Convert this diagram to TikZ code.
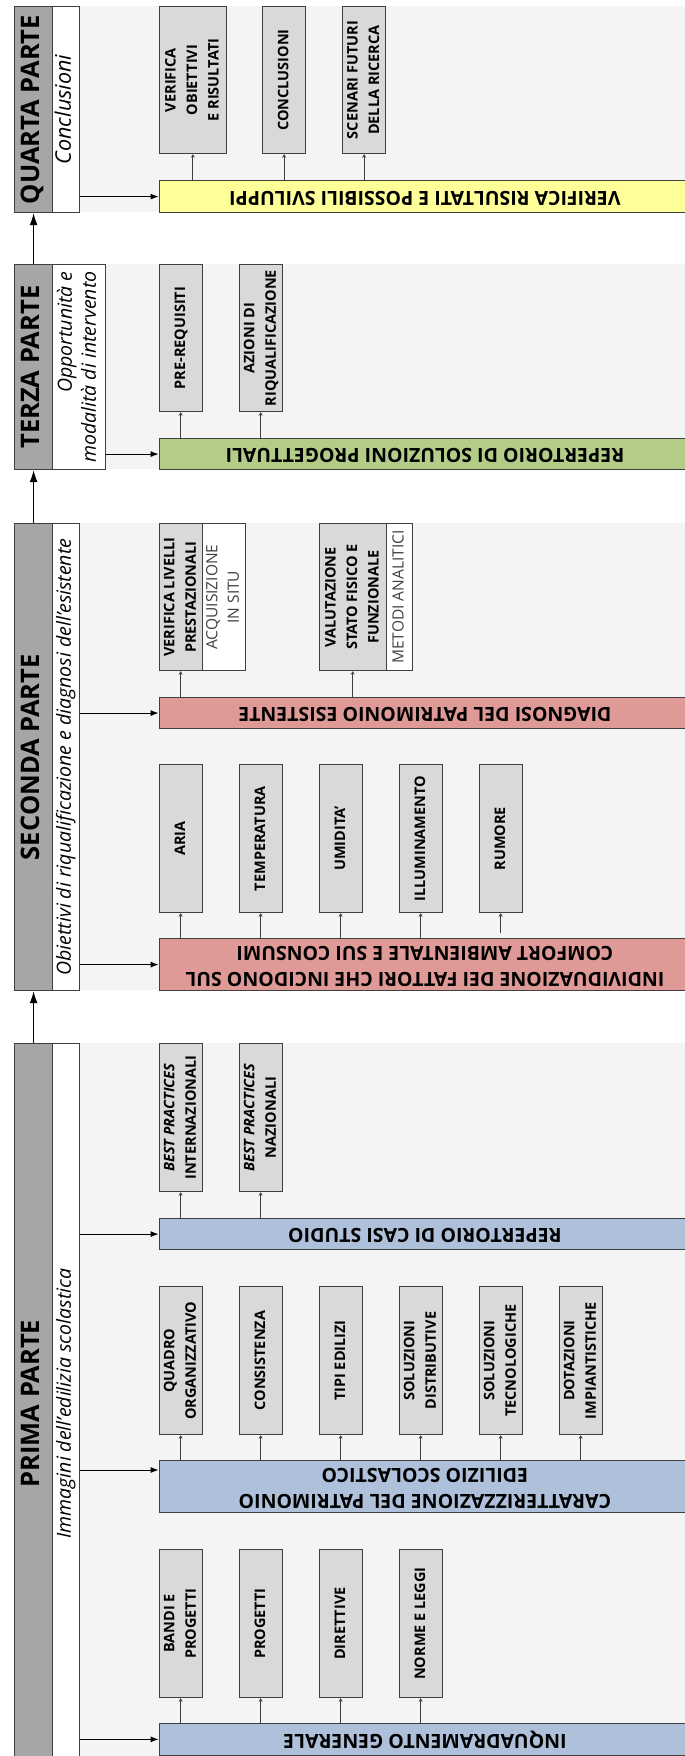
\documentclass[tikz,border=0pt]{standalone}
\usepackage{fontspec}
\setmainfont{Open Sans}
\usepackage{graphicx}
\usetikzlibrary{arrows.meta}
\definecolor{stripgray}{HTML}{A6A6A6}
\definecolor{boxgray}{HTML}{D9D9D9}
\definecolor{bggray}{HTML}{F4F4F4}
\definecolor{linecol}{HTML}{404040}
\definecolor{barblue}{HTML}{AEC0DA}
\definecolor{barpink}{HTML}{DF9A97}
\definecolor{bargreen}{HTML}{B3CC88}
\definecolor{baryellow}{HTML}{FFFF99}
\newcommand{\vtxt}[1]{\rotatebox{90}{\begin{tabular}{@{}c@{}}#1\end{tabular}}}
\newcommand{\vtxr}[1]{\rotatebox{90}{\begin{tabular}{@{}r@{}}#1\end{tabular}}}
\newcommand{\htxt}[1]{\rotatebox{180}{\begin{tabular}{@{}c@{}}#1\end{tabular}}}
\tikzset{
  secbg/.style={fill=bggray, draw=none, inner sep=0pt, anchor=north west, minimum width=606pt},
  strip/.style={draw=linecol, line width=1.2pt, fill=stripgray, inner sep=0pt, anchor=north west, minimum width=38pt, font=\fontsize{25.5}{30}\selectfont\bfseries},
  subt/.style={draw=linecol, line width=1.2pt, fill=white, inner sep=0pt, anchor=north west, font=\fontsize{19.5}{24}\selectfont\itshape},
  bar/.style={draw=linecol, line width=1.2pt, inner sep=0pt, anchor=north west, minimum width=531.4pt, font=\fontsize{19.5}{26}\selectfont\bfseries},
  gbox/.style={draw=linecol, line width=1.2pt, fill=boxgray, inner sep=0pt, anchor=north west, minimum width=43pt, minimum height=148pt, font=\fontsize{14.5}{21.5}\selectfont\bfseries},
  wbox/.style={gbox, fill=white, text=linecol, font=\fontsize{15.5}{21.5}\selectfont},
  conn/.style={draw=linecol, line width=0.9pt, -{Stealth[length=3.5pt,width=4pt]}},
  feed/.style={draw=black, line width=1pt, -{Latex[length=8pt,width=6pt]}},
  flow/.style={draw=black, line width=1.1pt, -{Latex[length=12pt,width=8pt]}},
}
\begin{document}
\begin{tikzpicture}[x=1pt,y=-1pt]
\useasboundingbox[fill=white] (0,0) rectangle (685,1756);

% ---------------- QUARTA PARTE ----------------
\node[secbg, minimum height=206pt] (bgQ) at (79,6) {};
\node[strip, minimum height=206pt] (sQ) at (14,6) {\vtxt{QUARTA PARTE}};
\node[subt, minimum width=27pt, minimum height=206pt, font=\fontsize{21.5}{24}\selectfont\itshape] (tQ) at (52,6) {\vtxt{Conclusioni}};
\node[bar, fill=baryellow, minimum height=32pt] (barQ) at (158.6,180) {\htxt{VERIFICA RISULTATI E POSSIBILI SVILUPPI}};
\node[gbox, minimum width=67.3pt, minimum height=147pt] (q1) at (158.6,6) {\vtxt{VERIFICA\\OBIETTIVI\\E RISULTATI}};
\node[gbox, minimum height=147pt] (q2) at (262,6) {\vtxt{CONCLUSIONI}};
\node[gbox, minimum height=147pt] (q3) at (342,6) {\vtxt{SCENARI FUTURI\\DELLA RICERCA}};

% ---------------- TERZA PARTE ----------------
\node[secbg, minimum height=205pt] (bgT) at (79,264) {};
\node[strip, minimum height=205pt] (sT) at (14,264) {\vtxt{TERZA PARTE}};
\node[subt, minimum width=53pt, minimum height=205pt] (tT) at (52,264) {\vtxr{Opportunità e\\modalità di intervento}};
\node[bar, fill=bargreen, minimum height=31pt] (barT) at (158.6,438) {\htxt{REPERTORIO DI SOLUZIONI PROGETTUALI}};
\node[gbox, minimum height=147pt] (t1) at (158.6,264) {\vtxt{PRE-REQUISITI}};
\node[gbox, minimum height=147pt] (t2) at (238.6,264) {\vtxt{AZIONI DI\\RIQUALIFICAZIONE}};

% ---------------- SECONDA PARTE ----------------
\node[secbg, minimum height=467pt] (bgS) at (79,523) {};
\node[strip, minimum height=467pt] (sS) at (14,523) {\vtxt{SECONDA PARTE}};
\node[subt, minimum width=27pt, minimum height=467pt] (tS) at (52,523) {\vtxt{Obiettivi di riqualificazione e diagnosi dell’esistente}};
\node[bar, fill=barpink, minimum height=31pt] (barD) at (158.6,697) {\htxt{DIAGNOSI DEL PATRIMONIO ESISTENTE}};
\node[bar, fill=barpink, minimum height=52pt] (barI) at (158.6,938) {\htxt{INDIVIDUAZIONE DEI FATTORI CHE INCIDONO SUL\\COMFORT AMBIENTALE E SUI CONSUMI}};
\node[gbox, minimum height=147pt] (d1) at (158.6,523) {\vtxt{VERIFICA LIVELLI\\PRESTAZIONALI}};
\node[wbox, minimum width=41.9pt, minimum height=147pt] (d1w) at (201.6,523) {\vtxt{ACQUISIZIONE\\IN SITU}};
\node[gbox, minimum width=67pt, minimum height=147pt] (d2) at (318.6,523) {\vtxt{VALUTAZIONE\\STATO FISICO E\\FUNZIONALE}};
\node[wbox, minimum width=26pt, minimum height=147pt] (d2w) at (385.6,523) {\vtxt{METODI ANALITICI}};
\node[gbox] (i1) at (158.6,764) {\vtxt{ARIA}};
\node[gbox] (i2) at (238.6,764) {\vtxt{TEMPERATURA}};
\node[gbox] (i3) at (318.6,764) {\vtxt{UMIDITA’}};
\node[gbox] (i4) at (398.6,764) {\vtxt{ILLUMINAMENTO}};
\node[gbox] (i5) at (478.6,764) {\vtxt{RUMORE}};

% ---------------- PRIMA PARTE ----------------
\node[secbg, minimum height=720pt] (bgP) at (79,1043) {};
\node[strip, minimum height=720pt] (sP) at (14,1043) {\vtxt{PRIMA PARTE}};
\node[subt, minimum width=27pt, minimum height=720pt] (tP) at (52,1043) {\vtxt{Immagini dell’edilizia scolastica}};
\node[bar, fill=barblue, minimum height=31pt] (barR) at (158.6,1218) {\htxt{REPERTORIO DI CASI STUDIO}};
\node[bar, fill=barblue, minimum height=52pt] (barC) at (158.6,1460) {\htxt{CARATTERIZZAZIONE DEL PATRIMONIO\\EDILIZIO SCOLASTICO}};
\node[bar, fill=barblue, minimum height=31.5pt] (barN) at (158.6,1723) {\htxt{INQUADRAMENTO GENERALE}};
\node[gbox] (r1) at (158.6,1043) {\vtxt{\textit{BEST PRACTICES}\\INTERNAZIONALI}};
\node[gbox] (r2) at (238.6,1043) {\vtxt{\textit{BEST PRACTICES}\\NAZIONALI}};
\node[gbox] (c1) at (158.6,1286) {\vtxt{QUADRO\\ORGANIZZATIVO}};
\node[gbox] (c2) at (238.6,1286) {\vtxt{CONSISTENZA}};
\node[gbox] (c3) at (318.6,1286) {\vtxt{TIPI EDILIZI}};
\node[gbox] (c4) at (398.6,1286) {\vtxt{SOLUZIONI\\DISTRIBUTIVE}};
\node[gbox] (c5) at (478.6,1286) {\vtxt{SOLUZIONI\\TECNOLOGICHE}};
\node[gbox] (c6) at (558.6,1286) {\vtxt{DOTAZIONI\\IMPIANTISTICHE}};
\node[gbox] (n1) at (158.6,1549) {\vtxt{BANDI E\\PROGETTI}};
\node[gbox] (n2) at (238.6,1549) {\vtxt{PROGETTI}};
\node[gbox] (n3) at (318.6,1549) {\vtxt{DIRETTIVE}};
\node[gbox] (n4) at (398.6,1549) {\vtxt{NORME E LEGGI}};

% ---------------- flow between parts ----------------
\draw[flow] (sP.north) -- (sS.south);
\draw[flow] (sS.north) -- (sT.south);
\draw[flow] (sT.north) -- (sQ.south);

% ---------------- feeds from subtitles to bars ----------------
\draw[feed] (tQ.east |- barQ.west) -- (barQ.west);
\draw[feed] (tT.east |- barT.west) -- (barT.west);
\draw[feed] (tS.east |- barD.west) -- (barD.west);
\draw[feed] (tS.east |- barI.west) -- (barI.west);
\draw[feed] (tP.east |- barR.west) -- (barR.west);
\coordinate (cC) at ([yshift=-10pt]barC.north west);
\draw[feed] (tP.east |- cC) -- (cC);
\draw[feed] (tP.east |- barN.west) -- (barN.west);

% ---------------- connectors bar -> boxes ----------------
\foreach \b in {q1,q2,q3} \draw[conn] (barQ.north -| \b.south) -- (\b.south);
\foreach \b in {t1,t2} \draw[conn] (barT.north -| \b.south) -- (\b.south);
\foreach \b in {d1,d2} \draw[conn] (barD.north -| \b.south) -- (\b.south);
\foreach \b in {i1,i2,i3,i4} \draw[conn] (barI.north -| \b.south) -- (\b.south);
\coordinate (cR) at ([yshift=5pt]barI.north -| i5.south);
\draw[conn] (cR) -- (i5.south);
\foreach \b in {r1,r2} \draw[conn] (barR.north -| \b.south) -- (\b.south);
\foreach \b in {c1,c2,c3,c4,c5,c6} \draw[conn] (barC.north -| \b.south) -- (\b.south);
\foreach \b in {n1,n2,n3,n4} \draw[conn] (barN.north -| \b.south) -- (\b.south);
\end{tikzpicture}
\end{document}
